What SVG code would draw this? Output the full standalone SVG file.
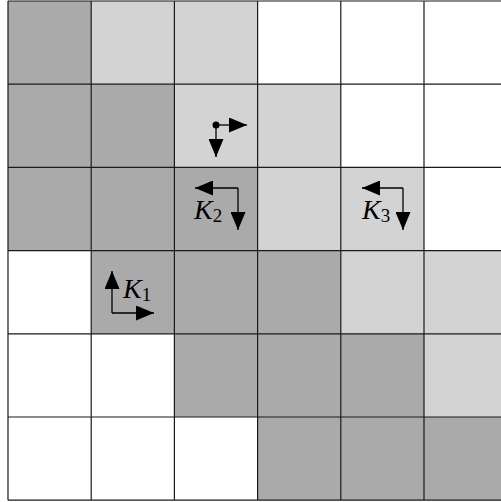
<svg xmlns="http://www.w3.org/2000/svg" width="501" height="502" viewBox="0 0 501 502">
<style>
.d{fill:#aaaaaa}.l{fill:#d3d3d3}.w{fill:#ffffff}
.g{stroke:#1a1a1a;stroke-width:1.2;fill:none}
.a{stroke:#000;stroke-width:1.3;fill:none}
.t{font-family:"Liberation Serif",serif;font-style:italic;font-size:28px}
.s{font-family:"Liberation Serif",serif;font-style:normal;font-size:19px}
</style>
<defs>
<marker id="h" viewBox="0 0 18 15" refX="18" refY="7.5" markerWidth="18" markerHeight="15" markerUnits="userSpaceOnUse" orient="auto"><path d="M0,0L18,7.5L0,15z" fill="#000"/></marker>
</defs>
<rect width="501" height="502" fill="#fff"/>
<g id="cells">
<rect class="d" x="8" y="1" width="83.2" height="83.2"/>
<rect class="l" x="91.2" y="1" width="83.2" height="83.2"/>
<rect class="l" x="174.4" y="1" width="83.2" height="83.2"/>
<rect class="d" x="8" y="84.2" width="83.2" height="83.2"/>
<rect class="d" x="91.2" y="84.2" width="83.2" height="83.2"/>
<rect class="l" x="174.4" y="84.2" width="83.2" height="83.2"/>
<rect class="l" x="257.6" y="84.2" width="83.2" height="83.2"/>
<rect class="d" x="8" y="167.4" width="83.2" height="83.2"/>
<rect class="d" x="91.2" y="167.4" width="83.2" height="83.2"/>
<rect class="d" x="174.4" y="167.4" width="83.2" height="83.2"/>
<rect class="l" x="257.6" y="167.4" width="83.2" height="83.2"/>
<rect class="l" x="340.8" y="167.4" width="83.2" height="83.2"/>
<rect class="d" x="91.2" y="250.6" width="83.2" height="83.2"/>
<rect class="d" x="174.4" y="250.6" width="83.2" height="83.2"/>
<rect class="d" x="257.6" y="250.6" width="83.2" height="83.2"/>
<rect class="l" x="340.8" y="250.6" width="83.2" height="83.2"/>
<rect class="l" x="424" y="250.6" width="83.2" height="83.2"/>
<rect class="d" x="174.4" y="333.8" width="83.2" height="83.2"/>
<rect class="d" x="257.6" y="333.8" width="83.2" height="83.2"/>
<rect class="d" x="340.8" y="333.8" width="83.2" height="83.2"/>
<rect class="l" x="424" y="333.8" width="83.2" height="83.2"/>
<rect class="d" x="257.6" y="417" width="83.2" height="83.2"/>
<rect class="d" x="340.8" y="417" width="83.2" height="83.2"/>
<rect class="d" x="424" y="417" width="83.2" height="83.2"/>
</g>
<g id="grid">
<path class="g" d="M8,1V500.2M91.2,1V500.2M174.4,1V500.2M257.6,1V500.2M340.8,1V500.2M424,1V500.2M507.2,1V500.2M8,1H507.2M8,84.2H507.2M8,167.4H507.2M8,250.6H507.2M8,333.8H507.2M8,417H507.2M8,500.2H507.2"/>
</g>
<g id="connectors">
<circle cx="216" cy="125" r="3.5" fill="#000"/>
<path class="a" d="M216,125H247" marker-end="url(#h)"/>
<path class="a" d="M216,125V157" marker-end="url(#h)"/>
<path class="a" d="M238,188H195" marker-end="url(#h)"/>
<path class="a" d="M238,188V230" marker-end="url(#h)"/>
<path class="a" d="M112,313V271" marker-end="url(#h)"/>
<path class="a" d="M112,313H154" marker-end="url(#h)"/>
<path class="a" d="M403,188H362" marker-end="url(#h)"/>
<path class="a" d="M403,188V230" marker-end="url(#h)"/>
</g>
<g id="K1"><text class="t" x="123" y="298">K<tspan class="s" dy="3">1</tspan></text></g>
<g id="K2"><text class="t" x="194" y="219">K<tspan class="s" dy="3">2</tspan></text></g>
<g id="K3"><text class="t" x="362" y="219">K<tspan class="s" dy="3">3</tspan></text></g>
</svg>
